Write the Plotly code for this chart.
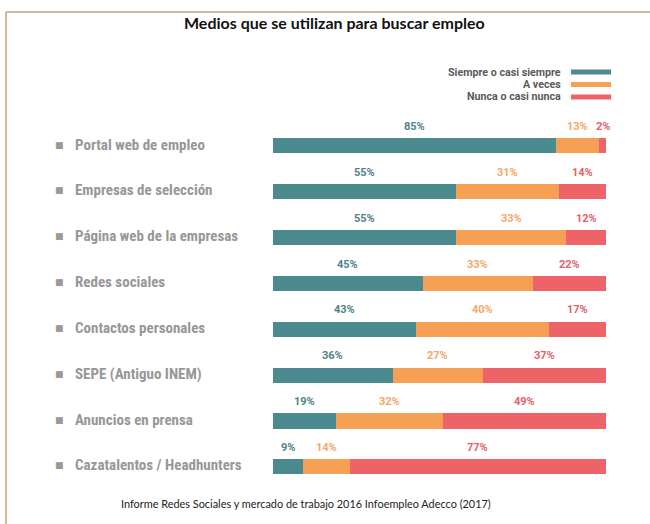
import plotly.graph_objects as go

# ---- data ----
categories = [
    "Portal web de empleo",
    "Empresas de selección",
    "Página web de la empresas",
    "Redes sociales",
    "Contactos personales",
    "SEPE (Antiguo INEM)",
    "Anuncios en prensa",
    "Cazatalentos / Headhunters",
]
siempre = [85, 55, 55, 45, 43, 36, 19, 9]
a_veces = [13, 31, 33, 33, 40, 27, 32, 14]
nunca = [2, 14, 12, 22, 17, 37, 49, 77]
series_names = ["Siempre o casi siempre", "A veces", "Nunca o casi nunca"]
title_text = "Medios que se utilizan para buscar empleo"
source_text = "Informe Redes Sociales y mercado de trabajo 2016 Infoempleo Adecco (2017)"

# ---- styling ----
W, H = 650, 524
colors = ["#4b8a8e", "#f5a055", "#ee6367"]
label_colors = ["#4f8387", "#f3a86a", "#e4606a"]
cond_font = "Roboto Condensed, DejaVu Sans Condensed, Liberation Sans Narrow, Roboto, sans-serif"

def px_x(x):
    return x / W

def px_y(y):
    return 1 - y / H

series = [siempre, a_veces, nunca]

fig = go.Figure()
for name, vals, col in zip(series_names, series, colors):
    fig.add_trace(go.Bar(
        y=categories, x=vals, name=name, orientation="h",
        marker=dict(color=col, line=dict(width=0)),
        width=0.33, showlegend=False, hoverinfo="x+y+name",
    ))

annotations = []
# percentage labels above each segment
for i, cat in enumerate(categories):
    base = 0
    for vals, lc in zip(series, label_colors):
        v = vals[i]
        annotations.append(dict(
            x=base + v / 2, y=cat, xref="x", yref="y", yshift=19,
            text=f"<b>{v}%</b>", showarrow=False,
            font=dict(family="Roboto, sans-serif", size=11, color=lc),
        ))
        base += v

# category labels with square bullets
for cat in categories:
    annotations.append(dict(
        x=px_x(59.5), y=cat, xref="paper", yref="y", yshift=1,
        text="■", showarrow=False, xanchor="center",
        font=dict(family="DejaVu Sans", size=9, color="#9a9a9a"),
    ))
    annotations.append(dict(
        x=px_x(73), y=cat, xref="paper", yref="y", yshift=1,
        text=f"<b>{cat}</b>", showarrow=False, xanchor="left",
        font=dict(family=cond_font, size=15, color="#979797"),
    ))

# custom legend (text left of swatch)
legend_rows = [72, 84.5, 97]
shapes = []
for name, col, yy in zip(series_names, colors, legend_rows):
    annotations.append(dict(
        x=px_x(563), y=px_y(yy), xref="paper", yref="paper",
        text=f"<b>{name}</b>", showarrow=False, xanchor="right", yanchor="middle",
        font=dict(family="Roboto, sans-serif", size=10.7, color="#5a5a5a"),
    ))
    shapes.append(dict(
        type="rect", xref="paper", yref="paper",
        x0=px_x(571), x1=px_x(611), y0=px_y(yy + 2.5), y1=px_y(yy - 2.5),
        fillcolor=col, line=dict(width=0),
    ))

# title and source
annotations.append(dict(
    x=px_x(334), y=px_y(22), xref="paper", yref="paper",
    text=f"<b>{title_text}</b>", showarrow=False, xanchor="center", yanchor="middle",
    font=dict(family="Lato, sans-serif", size=16, color="#111111"),
))
annotations.append(dict(
    x=px_x(306), y=px_y(503), xref="paper", yref="paper",
    text=source_text, showarrow=False, xanchor="center", yanchor="middle",
    font=dict(family="Lato, sans-serif", size=10.9, color="#222222"),
))

# frame lines (top and left)
border_col = "#c9a27a"
shapes.append(dict(type="line", xref="paper", yref="paper",
                   x0=px_x(6), x1=1, y0=px_y(12), y1=px_y(12),
                   line=dict(color=border_col, width=1.5)))
shapes.append(dict(type="line", xref="paper", yref="paper",
                   x0=px_x(6), x1=px_x(6), y0=px_y(12), y1=0,
                   line=dict(color=border_col, width=1.5)))

top_px, bot_px = 122.6, 489.4
fig.update_layout(
    width=W, height=H,
    margin=dict(l=0, r=0, t=0, b=0),
    barmode="stack", bargap=0,
    paper_bgcolor="white", plot_bgcolor="white",
    xaxis=dict(domain=[px_x(273), px_x(606)], range=[0, 100], visible=False, fixedrange=True),
    yaxis=dict(domain=[px_y(bot_px), px_y(top_px)], type="category",
               categoryorder="array", categoryarray=categories,
               range=[len(categories) - 0.5, -0.5], visible=False, fixedrange=True),
    annotations=annotations, shapes=shapes,
    showlegend=False,
)

fig.write_html(
    "out.html",
    config={"displayModeBar": False},
    post_script="document.body.style.margin='0';document.body.style.padding='0';",
)
